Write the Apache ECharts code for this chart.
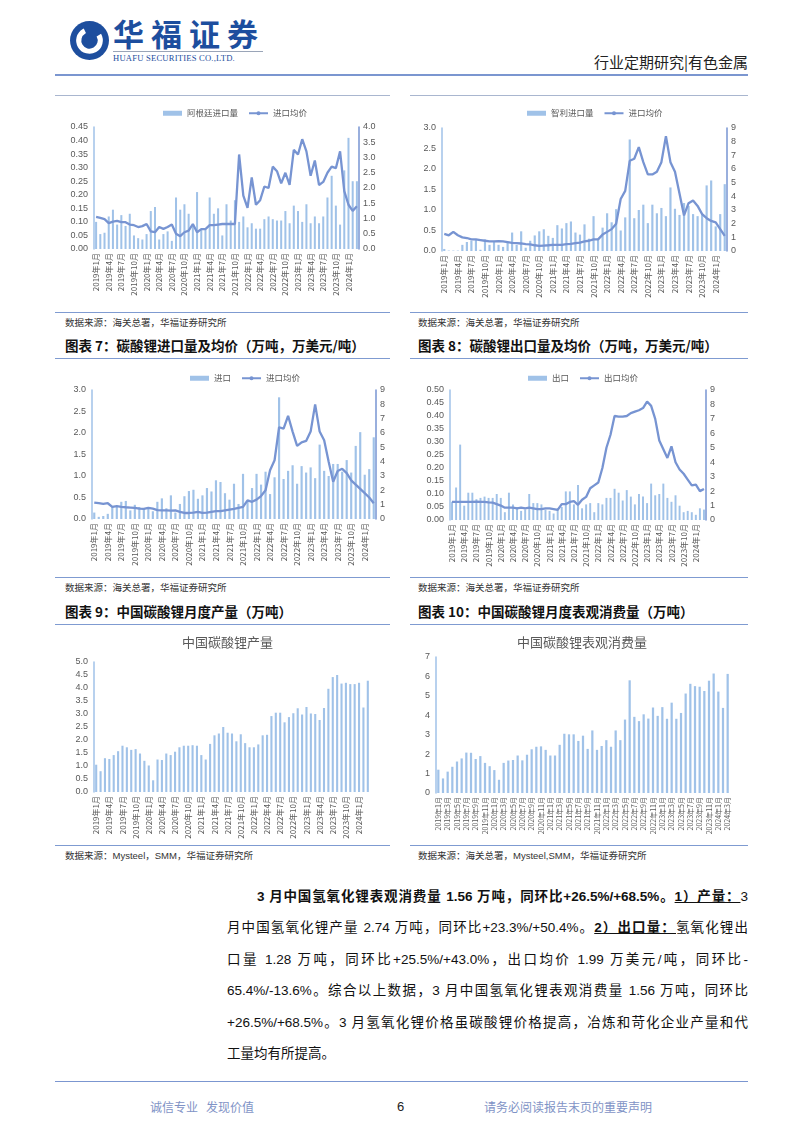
<!DOCTYPE html>
<html><head><meta charset="utf-8">
<script src="https://cdn.jsdelivr.net/npm/echarts@6/dist/echarts.min.js"></script>
<style>
html,body{margin:0;padding:0;background:#fff;}
#page{position:relative;width:802px;height:1133px;overflow:hidden;background:#fff;font-family:"Liberation Sans","Noto Sans CJK SC",sans-serif;}
.chart{position:absolute;}
.hl{position:absolute;height:0;border-top:1.5px solid #7f9bd1;}
.src{position:absolute;font-size:9.5px;line-height:12px;color:#333;white-space:nowrap;font-family:"Noto Sans CJK SC",sans-serif;}
.src span{font-family:"Liberation Sans",sans-serif;}
.ttl{position:absolute;font-size:13.5px;line-height:18px;font-weight:bold;color:#111;white-space:nowrap;font-family:"Noto Sans CJK SC",sans-serif;}
.para{position:absolute;font-size:13.5px;line-height:20px;height:20px;color:#111;text-align:justify;text-align-last:justify;font-family:"Liberation Sans","Noto Sans CJK SC",sans-serif;}
.para b{font-weight:bold;}
.foot{position:absolute;font-size:12px;line-height:16px;color:#7f93c6;white-space:nowrap;font-family:"Noto Sans CJK SC",sans-serif;}
</style></head>
<body>
<div id="page">
  <!-- header -->
  <svg style="position:absolute;left:69px;top:20px" width="41" height="41" viewBox="0 0 40 40">
    <circle cx="20" cy="20" r="19" fill="#1d4e9e"/>
    <circle cx="20" cy="20" r="10.5" fill="none" stroke="#fff" stroke-width="5" stroke-dasharray="50 16" transform="rotate(-30 20 20)"/>
    <rect x="15.5" y="15.5" width="9" height="9" fill="#1d4e9e" transform="rotate(45 20 20)"/>
  </svg>
  <div style="position:absolute;left:113px;top:16px;font-size:31px;line-height:34px;font-weight:bold;color:#1d4e9e;letter-spacing:7px;font-family:'Noto Sans CJK SC',sans-serif;white-space:nowrap;">华福证券</div>
  <div style="position:absolute;left:113px;top:51px;width:150px;height:0;border-top:1px solid #9aa5b8;"></div>
  <div style="position:absolute;left:113px;top:53px;font-size:8.6px;line-height:10px;color:#1d4e9e;font-family:'Liberation Serif',serif;white-space:nowrap;letter-spacing:0.2px;">HUAFU SECURITIES CO.,LTD.</div>
  <div style="position:absolute;right:54px;top:52px;font-size:15px;line-height:20px;color:#222;font-family:'Noto Sans CJK SC',sans-serif;white-space:nowrap;">行业定期研究|有色金属</div>
  <div style="position:absolute;left:55px;top:74px;width:693px;height:0;border-top:2.5px solid #7b96d0;"></div>

  <!-- row 1 -->
  <div class="hl" style="left:55px;top:95px;width:335px;border-top:1px solid #a9b6cf;"></div>
  <div class="hl" style="left:410px;top:95px;width:338px;border-top:1px solid #a9b6cf;"></div>
  <div id="c1" class="chart" style="left:55px;top:96px;width:335px;height:215px;"></div>
  <div id="c2" class="chart" style="left:410px;top:96px;width:340px;height:215px;"></div>
  <div class="hl" style="left:55px;top:312px;width:335px;"></div>
  <div class="hl" style="left:410px;top:312px;width:338px;"></div>
  <div class="src" style="left:65px;top:316px;">数据来源：海关总署，华福证券研究所</div>
  <div class="src" style="left:418px;top:316px;">数据来源：海关总署，华福证券研究所</div>

  <div class="ttl" style="left:65px;top:336px;">图表 7：碳酸锂进口量及均价（万吨，万美元/吨）</div>
  <div class="ttl" style="left:418px;top:336px;">图表 8：碳酸锂出口量及均价（万吨，万美元/吨）</div>
  <div class="hl" style="left:55px;top:358px;width:335px;"></div>
  <div class="hl" style="left:410px;top:358px;width:338px;"></div>
  <div id="c3" class="chart" style="left:55px;top:361px;width:335px;height:212px;"></div>
  <div id="c4" class="chart" style="left:410px;top:361px;width:340px;height:212px;"></div>
  <div class="hl" style="left:55px;top:577px;width:335px;"></div>
  <div class="hl" style="left:410px;top:577px;width:338px;"></div>
  <div class="src" style="left:65px;top:581px;">数据来源：海关总署，华福证券研究所</div>
  <div class="src" style="left:418px;top:581px;">数据来源：海关总署，华福证券研究所</div>

  <div class="ttl" style="left:65px;top:602px;">图表 9：中国碳酸锂月度产量（万吨）</div>
  <div class="ttl" style="left:418px;top:602px;">图表 10：中国碳酸锂月度表观消费量（万吨）</div>
  <div class="hl" style="left:55px;top:624px;width:335px;"></div>
  <div class="hl" style="left:410px;top:624px;width:338px;"></div>
  <div id="c5" class="chart" style="left:55px;top:626px;width:335px;height:217px;"></div>
  <div id="c6" class="chart" style="left:410px;top:626px;width:340px;height:217px;"></div>
  <div class="hl" style="left:55px;top:845px;width:335px;"></div>
  <div class="hl" style="left:410px;top:845px;width:338px;"></div>
  <div class="src" style="left:65px;top:849px;">数据来源：<span>Mysteel</span>，<span>SMM</span>，华福证券研究所</div>
  <div class="src" style="left:418px;top:849px;">数据来源：海关总署，<span>Mysteel,SMM</span>，华福证券研究所</div>

  <!-- paragraph -->
  <div class="para" style="left:257px;width:491px;top:887px;"><b>3 月中国氢氧化锂表观消费量 1.56 万吨，同环比+26.5%/+68.5%。<u>1）产量：</u></b>3</div>
  <div class="para" style="left:227px;width:521px;top:918px;">月中国氢氧化锂产量 2.74 万吨，同环比+23.3%/+50.4%。<b><u>2）出口量：</u></b>氢氧化锂出</div>
  <div class="para" style="left:227px;width:521px;top:950px;">口量 1.28 万吨，同环比+25.5%/+43.0%，出口均价 1.99 万美元/吨，同环比-</div>
  <div class="para" style="left:227px;width:521px;top:981px;">65.4%/-13.6%。综合以上数据，3 月中国氢氧化锂表观消费量 1.56 万吨，同环比</div>
  <div class="para" style="left:227px;width:521px;top:1013px;">+26.5%/+68.5%。3 月氢氧化锂价格虽碳酸锂价格提高，冶炼和苛化企业产量和代</div>
  <div class="para" style="left:227px;width:521px;top:1044px;text-align:left;text-align-last:left;">工量均有所提高。</div>

  <!-- footer -->
  <div style="position:absolute;left:55px;top:1081px;width:693px;height:0;border-top:1.5px solid #7b96d0;"></div>
  <div class="foot" style="left:150px;top:1099px;">诚信专业&nbsp;&nbsp;&nbsp;发现价值</div>
  <div class="foot" style="left:397px;top:1099px;color:#222;font-family:'Liberation Sans',sans-serif;font-size:13px;">6</div>
  <div class="foot" style="left:484px;top:1099px;">请务必阅读报告末页的重要声明</div>
</div>

<script>
// ---------- data ----------
const months = [];
for (let y = 2019; y <= 2024; y++) {
  for (let m = 1; m <= 12; m++) {
    if (y === 2024 && m > 3) break;
    months.push(y + '年' + m + '月');
  }
}
// Chart 1: Argentina import volume (万吨) & import avg price (万美元/吨)
const argImport = [0.10,0.055,0.06,0.12,0.145,0.09,0.125,0.085,0.13,0.05,
  0.04,0.035,0.055,0.14,0.155,0.035,0.055,0.065,0.03,0.19,
  0.145,0.165,0.13,0.085,0.21,0.07,0.07,0.19,0.13,0.15,
  0.05,0.165,0.105,0.18,0.10,0.12,0.08,0.095,0.075,0.075,
  0.11,0.12,0.11,0.105,0.105,0.14,0.095,0.16,0.14,0.10,
  0.165,0.095,0.12,0.095,0.12,0.19,0.27,0.16,0.09,0.29,
  0.41,0.25,0.25];
const argPrice = [1.05,1.02,0.98,0.85,0.9,0.92,0.88,0.88,0.8,0.78,
  0.72,0.75,0.82,0.58,0.55,0.72,0.66,0.72,0.8,0.5,
  0.42,0.55,0.6,0.82,0.55,0.65,0.65,0.78,0.78,0.8,
  0.82,0.82,0.82,0.82,3.1,1.75,1.35,2.35,1.45,1.6,
  2.05,2.0,2.7,2.55,2.15,2.5,2.1,3.25,3.1,3.6,
  3.2,2.4,2.9,2.1,2.2,2.5,2.7,2.65,3.2,1.9,
  1.45,1.25,1.4];
// Chart 2: Chile import volume & import avg price
const chileImport = [0.05,0.01,0.01,0.01,0.15,0.22,0.25,0.28,0.03,0.28,
  0.15,0.22,0.15,0.1,0.2,0.45,0.15,0.48,0.08,0.25,
  0.38,0.48,0.53,0.37,0.32,0.63,0.55,0.68,0.72,0.45,
  0.4,0.65,0.3,0.85,0.3,0.57,0.92,0.7,1.02,0.5,
  0.82,2.72,0.8,1.0,1.13,0.68,1.13,0.92,1.05,0.85,
  1.55,1.03,0.88,1.17,1.1,0.9,0.85,0.9,1.6,1.72,
  0.6,0.9,1.63];
const chilePrice = [1.25,1.15,1.4,1.15,1.0,0.95,0.85,0.85,0.8,0.75,
  0.7,0.7,0.72,0.7,0.65,0.6,0.58,0.55,0.5,0.48,
  0.42,0.38,0.4,0.42,0.45,0.45,0.45,0.5,0.52,0.58,
  0.62,0.7,0.75,0.85,0.85,1.2,1.4,1.6,2.0,3.8,
  4.4,6.6,6.75,7.6,6.5,5.6,5.6,5.8,6.5,8.4,
  6.5,5.8,4.2,2.6,3.5,3.7,3.3,2.7,2.4,2.2,
  2.1,1.6,1.1];
// Chart 3: Li2CO3 import volume & import avg price
const lcImport = [0.15,0.05,0.07,0.12,0.28,0.3,0.4,0.42,0.2,0.33,
  0.28,0.25,0.27,0.18,0.4,0.48,0.25,0.55,0.15,0.35,
  0.53,0.65,0.68,0.47,0.55,0.72,0.64,0.9,0.86,0.6,
  0.45,0.82,0.35,1.05,0.4,0.72,1.05,0.8,1.1,0.58,
  0.97,2.83,0.93,1.12,1.25,0.82,1.23,1.08,1.2,0.95,
  1.73,1.12,1.0,1.28,1.28,1.1,1.37,1.08,1.7,2.02,
  1.03,1.16,1.9];
const lcImportPrice = [1.15,1.1,1.05,1.1,0.85,0.9,0.85,0.82,0.8,0.78,
  0.72,0.7,0.78,0.72,0.62,0.6,0.6,0.58,0.6,0.5,
  0.42,0.42,0.45,0.5,0.42,0.45,0.5,0.55,0.55,0.6,
  0.65,0.7,0.78,0.85,1.3,1.2,1.35,1.6,2.0,3.4,
  4.1,6.4,6.3,7.2,6.1,5.1,5.35,5.45,6.1,8.0,
  6.1,5.5,4.0,2.6,3.35,3.5,3.2,2.7,2.4,2.1,
  1.8,1.5,1.1];
// Chart 4: Li2CO3 export volume & export avg price
const lcExport = [0.07,0.125,0.29,0.055,0.105,0.105,0.08,0.085,0.09,0.085,
  0.085,0.1,0.085,0.03,0.105,0.06,0.05,0.035,0.04,0.1,
  0.065,0.065,0.06,0.04,0.035,0.025,0.045,0.05,0.11,0.11,
  0.06,0.135,0.045,0.06,0.065,0.03,0.065,0.06,0.085,0.085,
  0.12,0.105,0.075,0.115,0.09,0.06,0.1,0.09,0.065,0.14,
  0.095,0.1,0.14,0.085,0.07,0.095,0.055,0.03,0.035,0.03,
  0.02,0.045,0.04];
const lcExportPrice = [1.25,1.25,1.25,1.25,1.25,1.25,1.27,1.25,1.25,1.22,
  1.2,1.1,1.0,0.85,0.85,0.85,0.8,0.85,0.8,0.85,
  0.8,0.75,0.75,0.8,0.8,0.75,0.7,1.1,1.1,1.25,
  1.3,1.05,1.4,1.6,2.2,2.4,2.6,3.6,5.0,5.9,
  7.2,7.15,7.15,7.2,7.4,7.5,7.6,7.75,8.2,7.9,
  7.0,5.5,4.9,4.3,5.1,4.0,3.5,3.2,2.8,2.4,
  2.45,2.0,2.15];
// Chart 5: China Li2CO3 production
const lcProduction = [1.05,0.8,1.3,1.27,1.42,1.57,1.78,1.72,1.62,1.65,
  1.48,1.2,1.02,0.45,1.25,1.23,1.48,1.42,1.55,1.72,
  1.78,1.78,1.8,1.78,1.42,1.25,1.85,2.18,2.25,2.5,
  2.28,2.25,1.95,2.22,1.88,1.72,1.72,1.83,2.18,2.2,
  2.92,3.05,3.05,2.68,2.88,3.03,3.22,2.98,3.27,3.02,
  3.0,2.77,3.23,3.97,4.42,4.5,4.17,4.2,4.15,4.15,
  4.2,3.25,4.28];
// Chart 6: China Li2CO3 apparent consumption
const lcConsumption = [1.2,0.75,1.1,1.35,1.62,1.78,2.08,2.07,1.75,1.9,
  1.55,1.38,1.18,0.68,1.55,1.67,1.7,1.93,1.68,1.97,
  2.25,2.38,2.4,2.22,1.93,1.93,2.48,3.05,3.02,3.02,
  2.68,2.95,2.27,3.22,2.22,2.42,2.72,2.38,3.22,2.72,
  3.78,5.8,3.92,3.7,4.05,3.83,4.4,3.97,4.42,3.82,
  4.65,3.82,4.12,5.12,5.62,5.5,5.47,5.25,5.78,6.15,
  5.22,4.38,6.13];

// ---------- styles ----------
const BAR = '#a0c2e8', LINE = '#7794d2', LAB = '#595959';
const NUMFONT = 'Liberation Sans';
const CJK = 'Noto Sans CJK SC';

function dual(id, grid, legendLeft, barName, barData, lineName, lineData, L, R) {
  const c = echarts.init(document.getElementById(id));
  c.setOption({
    animation: false,
    legend: {
      left: legendLeft, top: 8, itemWidth: 19, itemHeight: 5, itemGap: 10,
      textStyle: {fontSize: 8.5, color: LAB, fontFamily: CJK},
      data: [{name: barName, icon: 'rect'}, {name: lineName}]
    },
    grid: grid,
    xAxis: {
      type: 'category', data: months, boundaryGap: true,
      axisLine: {show: false}, axisTick: {show: false},
      axisLabel: {interval: 2, rotate: 90, fontSize: 8, color: LAB, margin: 4, fontFamily: CJK}
    },
    yAxis: [
      {type: 'value', min: 0, max: L.max, interval: L.step,
       axisLine: {show: true, lineStyle: {color: BAR, width: 1.5}},
       splitLine: {show: false}, axisTick: {show: false},
       axisLabel: {fontSize: 9, color: LAB, margin: 6, fontFamily: NUMFONT, formatter: v => v.toFixed(L.dec)}},
      {type: 'value', min: 0, max: R.max, interval: R.step, position: 'right',
       axisLine: {show: true, lineStyle: {color: LINE, width: 1.5}},
       splitLine: {show: false}, axisTick: {show: false},
       axisLabel: {fontSize: 9, color: LAB, margin: 4, fontFamily: NUMFONT, formatter: v => v.toFixed(R.dec)}}
    ],
    series: [
      {name: barName, type: 'bar', data: barData, barWidth: '48%', itemStyle: {color: BAR}},
      {name: lineName, type: 'line', yAxisIndex: 1, data: lineData, symbol: 'none',
       lineStyle: {color: LINE, width: 2.3}, itemStyle: {color: LINE}}
    ]
  });
}

function single(id, grid, title, titleLeft, data, max, step, dec, labInterval, labSize) {
  const c = echarts.init(document.getElementById(id));
  c.setOption({
    animation: false,
    title: {text: title, left: titleLeft, top: 5,
      textStyle: {fontSize: 13, fontWeight: 'normal', color: LAB, fontFamily: CJK}},
    grid: grid,
    xAxis: {
      type: 'category', data: months, boundaryGap: true,
      axisLine: {show: false}, axisTick: {show: false},
      axisLabel: {interval: labInterval, rotate: 90, fontSize: labSize, color: LAB, margin: 4, fontFamily: CJK}
    },
    yAxis: {type: 'value', min: 0, max: max, interval: step,
      axisLine: {show: true, lineStyle: {color: BAR, width: 1.5}},
      splitLine: {show: false}, axisTick: {show: false},
      axisLabel: {fontSize: 9, color: LAB, margin: 6, fontFamily: NUMFONT, formatter: v => v.toFixed(dec)}},
    series: [{type: 'bar', data: data, barWidth: '48%', itemStyle: {color: BAR}}]
  });
}

dual('c1', {left: 39, top: 31, width: 265, height: 122}, 103,
  '阿根廷进口量', argImport, '进口均价', argPrice,
  {max: 0.45, step: 0.05, dec: 2}, {max: 4, step: 0.5, dec: 1});
dual('c2', {left: 32, top: 32, width: 285, height: 123}, 112,
  '智利进口量', chileImport, '进口均价', chilePrice,
  {max: 3, step: 0.5, dec: 1}, {max: 9, step: 1, dec: 0});
dual('c3', {left: 37, top: 29, width: 284, height: 129}, 130,
  '进口', lcImport, '进口均价', lcImportPrice,
  {max: 3, step: 0.5, dec: 1}, {max: 9, step: 1, dec: 0});
dual('c4', {left: 40, top: 29, width: 256, height: 130}, 113,
  '出口', lcExport, '出口均价', lcExportPrice,
  {max: 0.5, step: 0.05, dec: 2}, {max: 9, step: 1, dec: 0});
single('c5', {left: 39, top: 36, width: 276, height: 130}, '中国碳酸锂产量', 122,
  lcProduction, 5, 0.5, 1, 2, 8);
single('c6', {left: 26, top: 31, width: 294, height: 136}, '中国碳酸锂表观消费量', 102,
  lcConsumption, 7, 1, 0, 1, 7);
</script>
</body></html>
